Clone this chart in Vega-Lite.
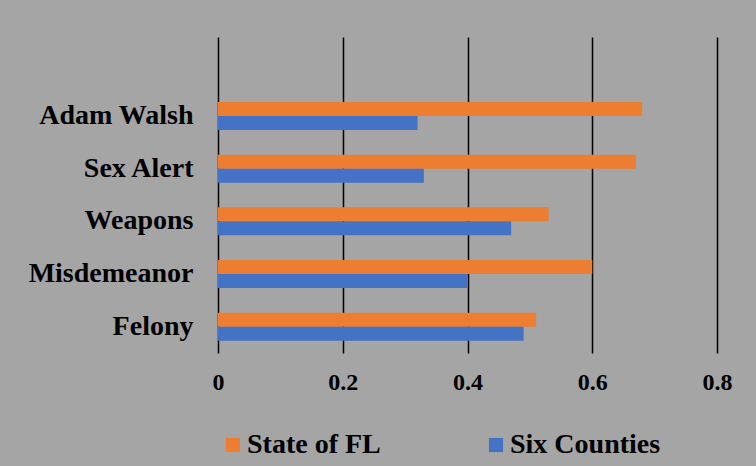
{
  "$schema": "https://vega.github.io/schema/vega-lite/v6.json",
  "width": 499,
  "height": 316,
  "autosize": {"type": "none"},
  "padding": {"left": 218, "top": 37, "right": 39, "bottom": 113},
  "background": "#a5a5a5",
  "config": {
    "view": {"stroke": null},
    "axis": {"labelFont": "Liberation Serif", "labelFontWeight": "bold", "labelColor": "black", "title": null},
    "legend": {"labelFont": "Liberation Serif", "labelFontWeight": "bold", "labelColor": "black"}
  },
  "data": {
    "values": [
      {"category": "Adam Walsh", "series": "State of FL", "value": 0.68},
      {"category": "Adam Walsh", "series": "Six Counties", "value": 0.32},
      {"category": "Sex Alert", "series": "State of FL", "value": 0.67},
      {"category": "Sex Alert", "series": "Six Counties", "value": 0.33},
      {"category": "Weapons", "series": "State of FL", "value": 0.53},
      {"category": "Weapons", "series": "Six Counties", "value": 0.47},
      {"category": "Misdemeanor", "series": "State of FL", "value": 0.60},
      {"category": "Misdemeanor", "series": "Six Counties", "value": 0.40},
      {"category": "Felony", "series": "State of FL", "value": 0.51},
      {"category": "Felony", "series": "Six Counties", "value": 0.49}
    ]
  },
  "mark": {"type": "bar"},
  "encoding": {
    "x": {
      "field": "value",
      "type": "quantitative",
      "scale": {"domain": [0, 0.8], "nice": false},
      "axis": {
        "values": [0, 0.2, 0.4, 0.6, 0.8],
        "format": "~g",
        "grid": true,
        "gridColor": "black",
        "gridWidth": 1.5,
        "gridOpacity": 1,
        "domain": false,
        "ticks": false,
        "labelFlush": false,
        "labelFontSize": 24,
        "labelPadding": 17
      }
    },
    "y": {
      "field": "category",
      "type": "nominal",
      "scale": {
        "domain": [" ", "Adam Walsh", "Sex Alert", "Weapons", "Misdemeanor", "Felony"],
        "paddingInner": 0.469,
        "paddingOuter": 0.2345
      },
      "axis": {
        "domain": false,
        "ticks": false,
        "grid": false,
        "labelFontSize": 28,
        "labelPadding": 25
      }
    },
    "yOffset": {
      "field": "series",
      "type": "nominal",
      "scale": {"domain": ["State of FL", "Six Counties"]}
    },
    "color": {
      "field": "series",
      "type": "nominal",
      "scale": {"domain": ["State of FL", "Six Counties"], "range": ["#ed7d31", "#4472c4"]},
      "legend": {
        "title": null,
        "orient": "none",
        "direction": "horizontal",
        "legendX": 1,
        "legendY": 394,
        "labelFontSize": 28,
        "symbolType": "square",
        "symbolSize": 200,
        "symbolStrokeWidth": 0,
        "labelOffset": 0,
        "columnPadding": 101
      }
    }
  }
}
